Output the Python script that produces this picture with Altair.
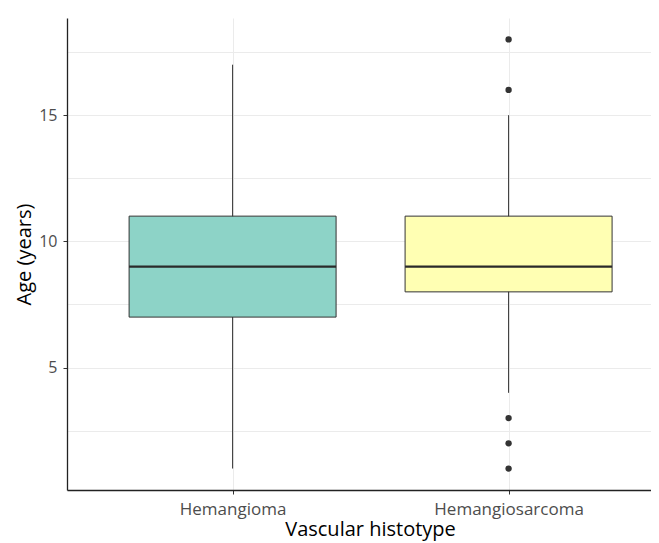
import altair as alt
import pandas as pd

categories = ["Hemangioma", "Hemangiosarcoma"]
positions = [1, 2]
q1 = [7, 8]
median = [9, 9]
q3 = [11, 11]
whisker_low = [1, 4]
whisker_high = [17, 15]
fill_colors = ["#8DD3C7", "#FFFFB3"]

outlier_group = ["Hemangiosarcoma"] * 5
outlier_values = [18, 16, 3, 2, 1]

half_width = 0.375

box_df = pd.DataFrame({
    "cat": categories,
    "pos": positions,
    "left": [p - half_width for p in positions],
    "right": [p + half_width for p in positions],
    "q1": q1, "median": median, "q3": q3,
    "lo": whisker_low, "hi": whisker_high,
})
out_df = pd.DataFrame({
    "cat": outlier_group,
    "pos": [positions[categories.index(c)] for c in outlier_group],
    "val": outlier_values,
})

label_expr = "datum.value == 1 ? 'Hemangioma' : (datum.value == 2 ? 'Hemangiosarcoma' : '')"

xscale = alt.Scale(domain=[0.4, 2.516], nice=False, zero=False)
yscale = alt.Scale(domain=[0.15, 18.85], nice=False, zero=False)

FONT = "Open Sans"

x_axis = alt.Axis(
    title="Vascular histotype", values=[1, 2], labelExpr=label_expr,
    grid=True, gridColor="#EBEBEB", gridWidth=1,
    domainColor="#222222", domainWidth=1.3, tickColor="#333333", tickSize=4,
    labelColor="#4D4D4D", labelFontSize=17, labelFont=FONT, labelPadding=7,
    titleFont=FONT, titleFontSize=20, titleFontWeight="normal",
    titleColor="#000000", titlePadding=2, titleX=303,
)
y_axis = alt.Axis(
    title="Age (years)", values=[2.5, 5, 7.5, 10, 12.5, 15, 17.5],
    labelExpr="datum.value % 5 == 0 ? datum.label : ''",
    grid=True, gridColor="#EBEBEB", gridWidth=1,
    domainColor="#222222", domainWidth=1.3,
    tickColor={"condition": {"test": "datum.value % 5 != 0", "value": "transparent"}, "value": "#333333"},
    tickSize=4,
    labelColor="#4D4D4D", labelFontSize=16, labelFont=FONT, labelPadding=6,
    titleFont=FONT, titleFontSize=20, titleFontWeight="normal",
    titleColor="#000000", titlePadding=4,
)

base = alt.Chart(box_df)

whisk = base.mark_rule(color="#333333", strokeWidth=1).encode(
    x=alt.X("pos:Q", scale=xscale, axis=x_axis),
    y=alt.Y("lo:Q", scale=yscale, axis=y_axis),
    y2="hi:Q",
)
box = base.mark_rect(stroke="#333333", strokeWidth=1).encode(
    x=alt.X("left:Q", scale=xscale),
    x2="right:Q",
    y=alt.Y("q1:Q", scale=yscale),
    y2="q3:Q",
    fill=alt.Fill("cat:N", scale=alt.Scale(domain=categories, range=fill_colors), legend=None),
)
med = base.mark_rule(color="#2a2a2a", strokeWidth=2.4).encode(
    x=alt.X("left:Q", scale=xscale),
    x2="right:Q",
    y=alt.Y("median:Q", scale=yscale),
)
pts = alt.Chart(out_df).mark_circle(color="#333333", opacity=1, size=40).encode(
    x=alt.X("pos:Q", scale=xscale),
    y=alt.Y("val:Q", scale=yscale),
)

chart = alt.layer(whisk, box, med, pts).properties(
    width=584, height=472,
    autosize=alt.AutoSizeParams(type="none"),
    padding={"left": 59, "top": 10, "right": 0, "bottom": 53},
    background="white",
).configure_view(stroke=None, strokeWidth=0)

chart.save("out.html", embed_options={"renderer": "svg", "actions": False})
